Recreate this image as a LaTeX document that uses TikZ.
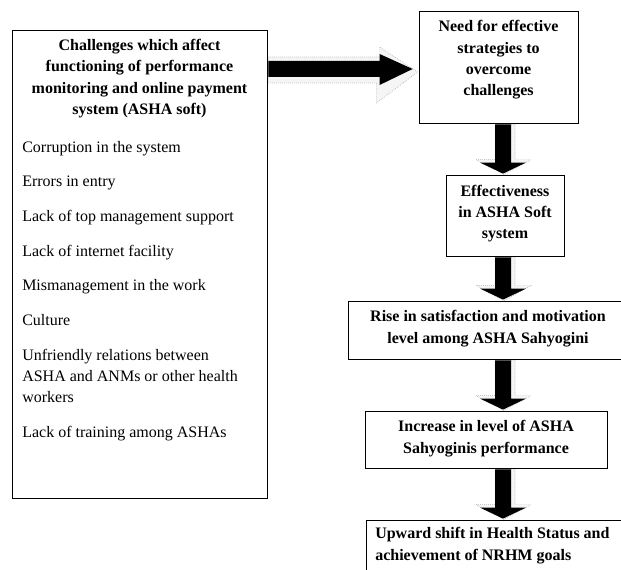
\documentclass[tikz,border=0pt]{standalone}
\usepackage{fontspec}
\setmainfont{Liberation Serif}
\usetikzlibrary{calc,fit}
\newcommand{\blockright}[2]{%
  \path (#1.east |- rowline) coordinate (tail) (#2.west |- rowline) coordinate (tip);
  \filldraw[shadeline] ($(tail)+(1,-12)$) -- ($(tip)+(-39,-12)$) -- ($(tip)+(-39,-22)$) -- ($(tip)+(-1,3)$)
    -- ($(tip)+(-42,34)$) -- ($(tip)+(-42,14)$) -- ($(tail)+(1,14)$) -- cycle;
  \fill ($(tail)+(1,-8)$) -- ($(tip)+(-39,-8)$) -- ($(tip)+(-39,-15)$) -- ($(tip)+(-6,0)$)
    -- ($(tip)+(-39,16)$) -- ($(tip)+(-39,8)$) -- ($(tail)+(1,8)$) -- cycle;}
\newcommand{\blockdown}[2]{%
  \path (spine |- #1.south) coordinate (top) (spine |- #2.north) coordinate (tip);
  \filldraw[shadeline] ($(top)+(-8,1)$) -- ($(top)+(12,1)$) -- ($(tip)+(12,-15)$) -- ($(tip)+(28,-15)$)
    -- ($(tip)+(1,0)$) -- ($(tip)+(-27,-15)$) -- ($(tip)+(-8,-15)$) -- cycle;
  \fill ($(top)+(-8,1)$) -- ($(top)+(8,1)$) -- ($(tip)+(8,-12)$) -- ($(tip)+(23,-12)$)
    -- ($(tip)+(0,-1)$) -- ($(tip)+(-23,-12)$) -- ($(tip)+(-8,-12)$) -- cycle;}

\begin{document}
\begin{tikzpicture}[x=0.75pt,y=-0.75pt,
  panel/.style={draw,line width=0.6pt,inner sep=0pt},
  txt/.style={font=\fontsize{12pt}{16pt}\selectfont,inner sep=0pt},
  boldtext/.style={txt,font=\fontsize{12pt}{16pt}\selectfont\bfseries,align=center},
  shadeline/.style={fill=gray!8,draw=gray!65,densely dotted,line width=0.5pt}]
\clip (0,0) rectangle (621,570);
\coordinate (spine) at (503,0);
\coordinate (rowline) at (0,69);
\node[panel,fit={(12,30) (267,498)}] (challenges) {};
\node[boldtext] (challengesTitle) at (139.5,78.5) {Challenges which affect\\functioning of performance\\monitoring and online payment\\system (ASHA soft)};
\node[txt,align=left,anchor=west] (challengesList) at (22,291) {Corruption in the system\\[10pt]Errors in entry\\[10pt]Lack of top management support\\[10pt]Lack of internet facility\\[10pt]Mismanagement in the work\\[10pt]Culture\\[10pt]Unfriendly relations between\\ASHA and ANMs or other health\\workers\\[10pt]Lack of training among ASHAs};
\node[panel,fit={(419,11) (578,123)}] (need) {};
\node[boldtext] (needText) at (498.5,60) {Need for effective\\strategies to\\overcome\\challenges};
\node[panel,fit={(446,175) (564,256)}] (effect) {};
\node[boldtext] (effectText) at (505,213.5) {Effectiveness\\in ASHA Soft\\system};
\node[panel,fit={(348,301) (628,359)}] (rise) {};
\node[boldtext] (riseText) at (488,328.5) {Rise in satisfaction and motivation\\level among ASHA Sahyogini};
\node[panel,fit={(365,411) (607,468)}] (increase) {};
\node[boldtext] (increaseText) at (486,438.5) {Increase in level of ASHA\\Sahyoginis performance};
\node[panel,fit={(366,520) (640,600)}] (upward) {};
\node[boldtext,align=left,anchor=west] (upwardText) at (375,545.5) {Upward shift in Health Status and\\achievement of NRHM goals};
\blockright{challenges}{need}
\blockdown{need}{effect}
\blockdown{effect}{rise}
\blockdown{rise}{increase}
\blockdown{increase}{upward}
\end{tikzpicture}
\end{document}
